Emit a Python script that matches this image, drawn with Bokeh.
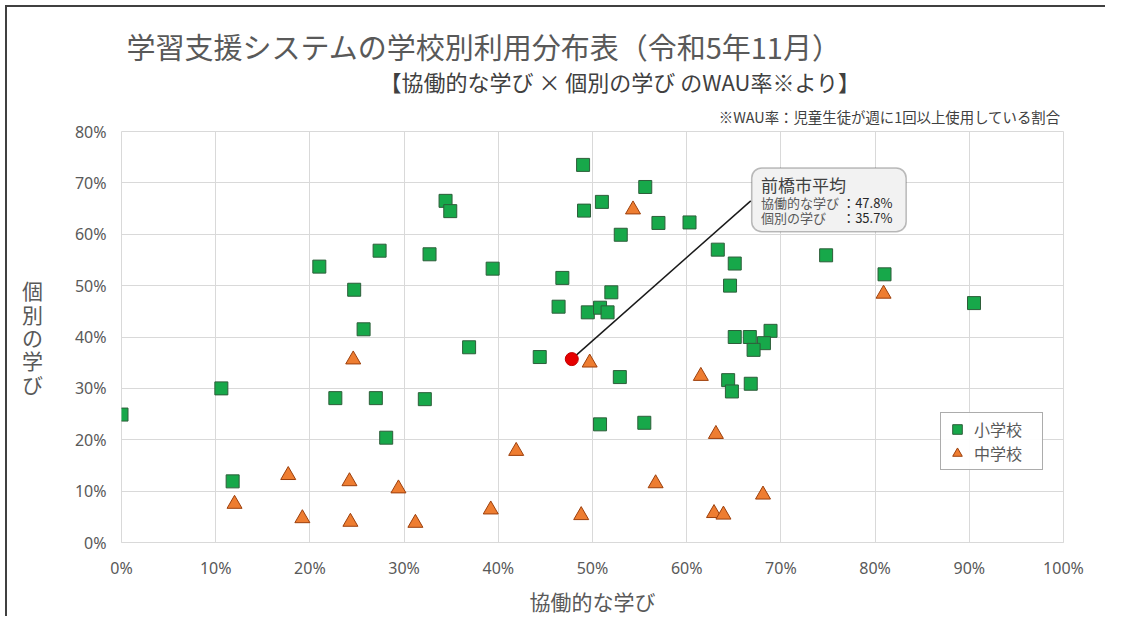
from bokeh.plotting import figure
from bokeh.models import (Range1d, FixedTicker, PrintfTickFormatter, Label, BoxAnnotation,
                          Legend, LegendItem, Title)
from bokeh.embed import file_html
from bokeh.resources import INLINE

# ---- data (percent) ----
elem_x = [0.0, 10.6, 11.8, 21.0, 24.7, 22.7, 25.7, 27.4, 27.0, 28.1, 32.7, 32.2, 34.4, 34.9,
          36.9, 39.4, 44.4, 46.8, 46.4, 49.0, 49.1, 49.5, 51.0, 50.8, 51.6, 52.0, 50.8, 53.0,
          52.9, 55.6, 55.5, 57.0, 60.3, 63.3, 65.1, 64.6, 65.1, 66.7, 68.9, 68.2, 67.1, 64.4,
          64.8, 66.8, 74.8, 81.0, 90.5]
elem_y = [24.9, 30.0, 11.9, 53.7, 49.2, 28.1, 41.5, 56.8, 28.1, 20.4, 56.1, 27.9, 66.5, 64.5,
          38.0, 53.3, 36.1, 51.5, 45.9, 73.5, 64.6, 44.8, 66.3, 45.7, 44.8, 48.7, 23.0, 59.9,
          32.2, 69.2, 23.3, 62.2, 62.3, 57.0, 54.3, 50.0, 40.0, 40.0, 41.2, 38.8, 37.5, 31.6,
          29.4, 30.9, 55.9, 52.2, 46.6]
jhs_x = [24.6, 12.0, 17.7, 19.2, 24.2, 24.3, 29.4, 31.2, 41.9, 39.2, 48.8, 49.7, 54.3, 56.7,
         61.5, 63.1, 62.9, 63.9, 68.1, 80.9]
jhs_y = [35.6, 7.5, 13.1, 4.7, 11.9, 4.0, 10.5, 3.8, 17.8, 6.4, 5.3, 35.0, 64.8, 11.5,
         32.4, 21.1, 5.7, 5.4, 9.3, 48.4]
avg_x = [47.8]
avg_y = [35.7]
x_ticks = [0, 10, 20, 30, 40, 50, 60, 70, 80, 90, 100]
y_ticks = [0, 10, 20, 30, 40, 50, 60, 70, 80]

JP = "Noto Sans CJK JP"

p = figure(width=1100, height=611, output_backend="svg", toolbar_location=None,
           x_range=Range1d(0, 100), y_range=Range1d(0, 80),
           min_border_left=114, min_border_right=44, min_border_top=124, min_border_bottom=76,
           styles={"margin-left": "5px", "margin-top": "5px",
                   "border-left": "2px solid #404040", "border-top": "2px solid #404040"})
p.background_fill_color = "white"
p.border_fill_color = "white"
p.outline_line_color = "#d9d9d9"

for ax, ticks in ((p.xaxis, x_ticks), (p.yaxis, y_ticks)):
    ax.ticker = FixedTicker(ticks=ticks)
    ax.formatter = PrintfTickFormatter(format="%d%%")
    ax.major_tick_line_color = None
    ax.minor_tick_line_color = None
    ax.major_label_text_font = "Noto Sans"
    ax.major_label_text_font_size = "16px"
    ax.major_label_text_color = "#595959"
    ax.axis_label_text_font = JP
    ax.axis_label_text_font_style = "normal"
    ax.axis_label_text_color = "#595959"
    ax.axis_label_text_font_size = "21px"
p.xaxis.axis_line_color = "#d9d9d9"
p.yaxis.axis_line_color = None
p.xaxis.major_label_standoff = 8
p.yaxis.major_label_standoff = 9
p.xaxis.axis_label = "協働的な学び"
p.xaxis.axis_label_standoff = 4
p.yaxis.axis_label = "個\n別\nの\n学\nび"
p.yaxis.axis_label_orientation = "horizontal"
p.yaxis.axis_label_text_line_height = 0.78
p.yaxis.axis_label_standoff = 29
p.grid.grid_line_color = "#d9d9d9"
p.xgrid.ticker = FixedTicker(ticks=x_ticks)
p.ygrid.ticker = FixedTicker(ticks=y_ticks)

# titles (first added sits closest to the plot)
p.add_layout(Title(text="※WAU率：児童生徒が週に1回以上使用している割合", align="right", offset=3,
                   text_font=JP, text_font_size="14.4px", text_font_style="normal",
                   text_color="#404040", vertical_align="middle", standoff=7), "above")
p.add_layout(Title(text="【協働的な学び × 個別の学び のWAU率※より】", align="left", offset=258,
                   text_font=JP, text_font_size="22px", text_font_style="normal",
                   text_color="#404040", vertical_align="bottom", standoff=10), "above")
p.add_layout(Title(text="学習支援システムの学校別利用分布表（令和5年11月）", align="left", offset=5,
                   text_font=JP, text_font_size="29px", text_font_style="normal",
                   text_color="#595959", vertical_align="middle", standoff=-20), "above")

# leader line from average point to callout
p.line(x=[avg_x[0], 66.8], y=[avg_y[0], 66.5], line_color="#1a1a1a", line_width=1.5)

r_elem = p.scatter(elem_x, elem_y, marker="square", size=13, fill_color="#17a84a",
                   line_color="#2d5e3a", line_width=1)
r_jhs = p.scatter(jhs_x, jhs_y, marker="triangle", size=15, fill_color="#ee7d31",
                  line_color="#9c3f0c", line_width=1)
p.scatter(avg_x, avg_y, marker="circle", size=13, fill_color="#e60000", line_color="#c00000")

# callout box
p.add_layout(BoxAnnotation(left=66.9, right=83.3, top=72.9, bottom=60.5,
                           fill_color="#f2f2f2", fill_alpha=1, line_color="#262626",
                           line_width=1.5, border_radius=10))
p.add_layout(Label(x=67.9, y=69.7, text="前橋市平均", text_font=JP, text_font_size="17px",
                   text_color="#404040", text_baseline="middle"))
p.add_layout(Label(x=67.9, y=66.2, text="協働的な学び", text_font=JP, text_font_size="13px",
                   text_color="#595959", text_baseline="middle"))
p.add_layout(Label(x=67.9, y=63.3, text="個別の学び", text_font=JP, text_font_size="13px",
                   text_color="#595959", text_baseline="middle"))
p.add_layout(Label(x=76.5, y=66.2, text="：47.8%", text_font=JP, text_font_size="13px",
                   text_color="#262626", text_baseline="middle"))
p.add_layout(Label(x=76.5, y=63.3, text="：35.7%", text_font=JP, text_font_size="13px",
                   text_color="#262626", text_baseline="middle"))

legend = Legend(items=[LegendItem(label="小学校", renderers=[r_elem]),
                       LegendItem(label="中学校", renderers=[r_jhs])],
                location=(819, 72), label_text_font=JP, label_text_font_size="16px",
                label_text_color="#595959", border_line_color="#595959", border_line_width=1,
                padding=4, spacing=0, glyph_width=24, glyph_height=24, label_height=24,
                label_width=64, label_standoff=5, margin=0)
p.add_layout(legend, "center")

open("out.html", "w").write(file_html(p, INLINE))
